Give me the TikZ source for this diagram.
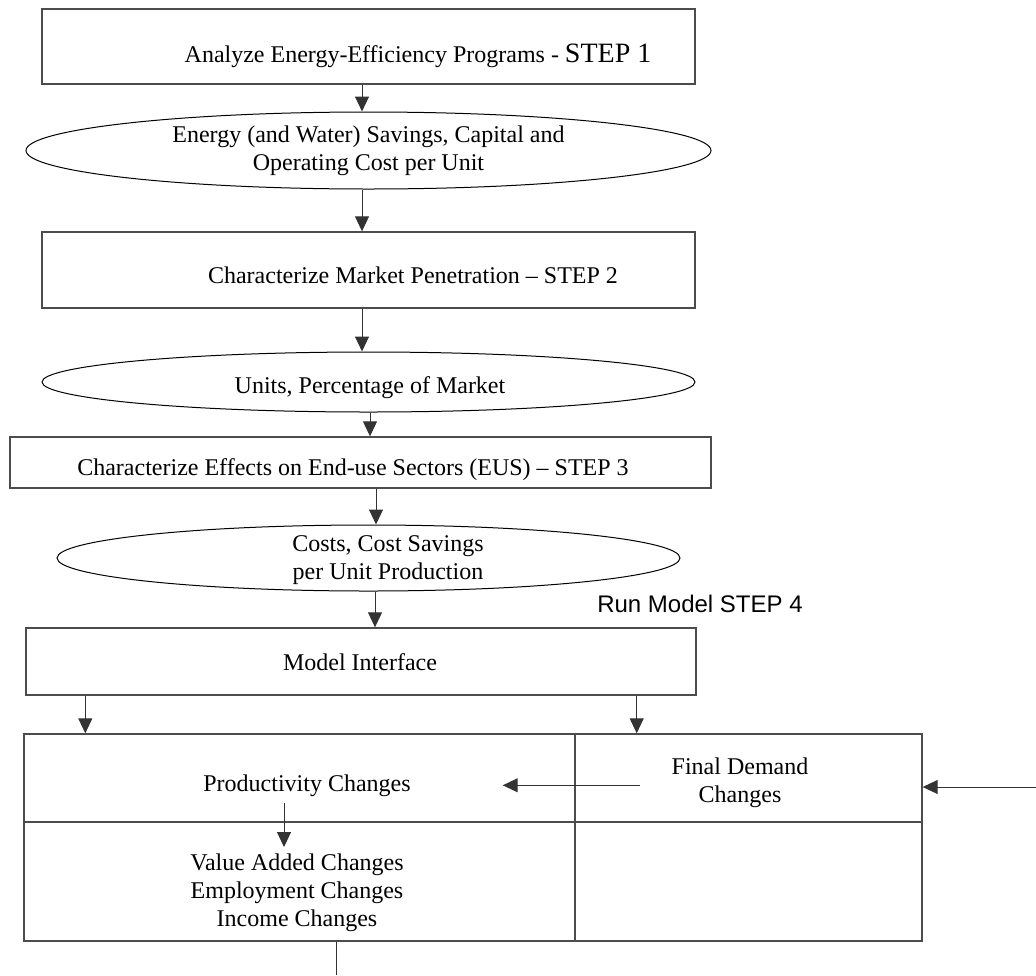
\documentclass[tikz,border=0pt]{standalone}
\usepackage{fontspec}
\setmainfont{Liberation Serif}
\newfontfamily\runfont{Liberation Sans}
\usetikzlibrary{shapes.geometric,arrows.meta}
\tikzset{every node/.style={font=\fontsize{12}{14}\selectfont},
  stepbox/.style={rectangle,draw=black!70,line width=0.7pt,inner sep=0pt},
  result/.style={ellipse,draw,line width=0.5pt,inner sep=0pt,align=center},
  flow/.style={-{Triangle[length=7.5pt,width=7pt]},line width=0.5pt,black!80}}

\begin{document}
\begin{tikzpicture}[x=0.5pt,y=-0.5pt]
           \useasboundingbox (0,0) rectangle (1036,975);
           % steps 1 to 3
           \node[stepbox,minimum width=326.5pt,minimum height=37.5pt] (analyze) at (368.5,46.5) {};
           \node[anchor=base] (analyzetext) at (418,62) {Analyze Energy-Efficiency Programs - {\fontsize{14}{16}\selectfont STEP 1}};
           \node[result,minimum width=342.5pt,minimum height=38.5pt] (savings) at (368.5,150.5) {Energy (and Water) Savings, Capital and\\Operating Cost per Unit};
           \node[stepbox,minimum width=326.5pt,minimum height=38pt] (penetration) at (368.5,270) {};
           \node[anchor=base] (penetrationtext) at (413,283) {Characterize Market Penetration – STEP 2};
           \node[result,minimum width=326.5pt,minimum height=30pt] (units) at (368.5,382) {};
           \node (unitstext) at (370,388) {Units, Percentage of Market};
           \node[stepbox,minimum width=350.5pt,minimum height=25.5pt] (effects) at (360.5,462.5) {};
           \node[anchor=base] (effectstext) at (353,475) {Characterize Effects on End-use Sectors (EUS) – STEP 3};
           \node[result,minimum width=311.5pt,minimum height=33pt] (costs) at (368.5,558) {};
           \node[align=center] (coststext) at (388,560) {Costs, Cost Savings\\per Unit Production};
           % step 4
           \node[anchor=base,font=\runfont\fontsize{12}{14}\selectfont] (runmodel) at (700,612) {Run Model STEP 4};
           \node[stepbox,minimum width=335pt,minimum height=33.5pt] (interface) at (361,661.5) {};
           \node[anchor=base] (interfacetext) at (360,670) {Model Interface};
           \node[stepbox,minimum width=449pt,minimum height=103.5pt] (model) at (473,837.5) {};
           \coordinate (split) at (575,822);
           \draw[black!70,line width=0.7pt] (split |- model.north) -- (split |- model.south)
                 (split -| model.west) -- (split -| model.east);
           \node[anchor=base] (prod) at (307,791) {Productivity Changes};
           \node[align=center] (findem) at (740,783) {Final Demand\\Changes};
           \node[align=center] (valadd) at (297,893) {Value Added Changes\\Employment Changes\\Income Changes};
           \coordinate (demandin) at (1036,787);
           \coordinate (outlet) at (336,975);
            \path[flow]
            ([xshift=-3.25pt]analyze.south) edge ([xshift=-3.25pt]savings.north)
            ([xshift=-3.25pt]savings.south) edge ([xshift=-3.25pt]penetration.north)
            ([xshift=-3.25pt]penetration.south) edge ([xshift=-3.25pt]units.north)
            ([xshift=0.75pt]units.south) edge ([xshift=4.75pt]effects.north)
            ([xshift=7.75pt]effects.south) edge ([xshift=3.75pt]costs.north)
            ([xshift=3.25pt]costs.south) edge ([xshift=7pt]interface.north)
            ([xshift=30pt]interface.south west) edge ([xshift=31pt]model.north west)
            ([xshift=-30pt]interface.south east) edge ([xshift=-143pt]model.north east)
            (findem.west |- prod) edge [shorten <=12.5pt,shorten >=42.5pt] (prod)
            ([xshift=-11.5pt]prod.south) edge ([xshift=-6.5pt]valadd.north)
            (demandin) edge (demandin -| model.east);
            \draw[line width=0.5pt,black!80] (outlet |- model.south) -- (outlet);
        \end{tikzpicture}
\end{document}
